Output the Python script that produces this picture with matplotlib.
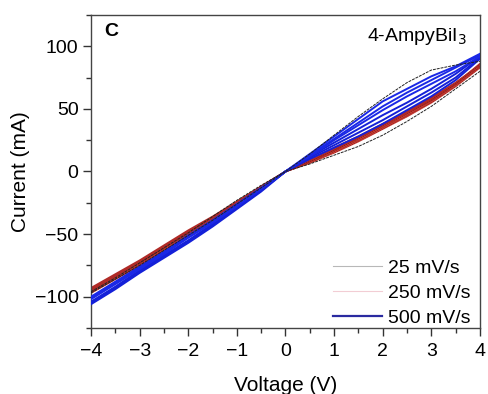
import matplotlib
matplotlib.use("Agg")
import matplotlib.pyplot as plt
from matplotlib.lines import Line2D
from matplotlib.ticker import MultipleLocator

plt.rcParams['font.family'] = ['Liberation Sans', 'DejaVu Sans']

# Voltage grid (V), forward sweep -4 -> 4
voltage = [-4, -3.5, -3, -2.5, -2, -1.5, -1, -0.5, 0, 0.5, 1, 1.5, 2, 2.5, 3, 3.5, 4]

# 25 mV/s (one loop): lower and upper branches on the same grid
black_fwd = [-97, -86, -75, -63, -51, -39, -26, -13, 0, 6, 13, 20, 29, 40, 52, 66, 80]
black_bwd = [-96, -85, -73, -61, -49, -36, -23, -11, 0, 14, 29, 44, 58, 71, 81, 85, 88]

# 250 mV/s (several loops)
red_fwd = [
    [-95, -84, -73, -61, -49, -38, -26, -13, 0, 7, 15, 24, 34, 44, 55, 68, 83],
    [-96, -85, -74, -62, -50, -39, -27, -14, 0, 7, 16, 25, 35, 45, 56, 69, 84],
    [-97, -86, -75, -63, -51, -40, -28, -14, 0, 8, 17, 26, 36, 46, 57, 70, 85],
]
red_bwd = [
    [-93, -82, -71, -59, -47, -36, -24, -12, 0, 9, 19, 28, 38, 48, 59, 71, 85],
    [-94, -83, -72, -60, -48, -37, -25, -12, 0, 9, 18, 27, 37, 47, 58, 70, 84],
    [-95, -84, -73, -61, -49, -37, -25, -13, 0, 8, 17, 27, 37, 47, 57, 70, 86],
]

# 500 mV/s (several loops)
blue_fwd = [
    [-106, -94, -81, -69, -57, -44, -30, -16, 0, 10, 19, 28, 38, 49, 60, 73, 90],
    [-105, -93, -80, -68, -56, -43, -29, -15, 0, 11, 21, 31, 41, 52, 63, 75, 91],
    [-104, -92, -79, -67, -55, -42, -29, -15, 0, 12, 23, 34, 45, 55, 66, 78, 92],
]
blue_bwd = [
    [-100, -88, -76, -64, -51, -39, -26, -13, 0, 14, 28, 42, 56, 66, 76, 84, 94],
    [-101, -89, -77, -65, -52, -40, -27, -14, 0, 13, 26, 39, 52, 63, 73, 83, 93],
    [-102, -90, -78, -66, -53, -41, -28, -14, 0, 12, 25, 37, 49, 60, 70, 80, 92],
]

legend_labels = ["25 mV/s", "250 mV/s", "500 mV/s"]
x_ticks = [-4, -3, -2, -1, 0, 1, 2, 3, 4]
y_ticks = [-100, -50, 0, 50, 100]

fig = plt.figure(figsize=(4.88, 3.94), dpi=100)
ax = fig.add_axes([0.1865, 0.1675, 0.797, 0.7945])

for f, b in zip(red_fwd, red_bwd):
    ax.plot(voltage, f, color='#c83a32', lw=1.3, zorder=2)
    ax.plot(voltage, b, color='#b02a26', lw=1.3, zorder=2)
    ax.plot(voltage, f, color='#5a1410', lw=0.5, ls=(0, (1, 2)), zorder=2)

for f, b in zip(blue_fwd, blue_bwd):
    ax.plot(voltage, f, color='#1420d8', lw=1.4, zorder=3)
    ax.plot(voltage, b, color='#1a28e6', lw=1.4, zorder=3)

ax.plot(voltage, black_fwd, color='#222222', lw=0.7, ls=(0, (3, 1)), zorder=4)
ax.plot(voltage, black_bwd, color='#222222', lw=0.7, ls=(0, (3, 1)), zorder=4)

ax.set_xlim(-4, 4)
ax.set_ylim(-125, 125)
ax.set_xticks(x_ticks)
ax.set_yticks(y_ticks)
ax.set_xticklabels([str(t).replace('-', '\u2212') for t in x_ticks])
ax.set_yticklabels([str(t).replace('-', '\u2212') for t in y_ticks])
ax.xaxis.set_minor_locator(MultipleLocator(0.5))
ax.yaxis.set_minor_locator(MultipleLocator(25))
ax.tick_params(which='major', direction='out', length=6, width=1, labelsize=14, color='#333333')
ax.tick_params(which='minor', direction='out', length=3.5, width=1, color='#333333')
ax.tick_params(axis='x', which='major', pad=5)
ax.tick_params(axis='y', which='major', pad=3)
for s in ax.spines.values():
    s.set_color('#444444')
    s.set_linewidth(1.0)

ax.set_xlabel('Voltage (V)', fontsize=15, labelpad=11)
ax.set_ylabel('Current (mA)', fontsize=15, labelpad=3)

ax.text(0.035, 0.975, 'C', transform=ax.transAxes, fontsize=14, fontweight='bold',
        va='top', ha='left')
ax.text(0.965, 0.965, '4-AmpyBiI$_3$', transform=ax.transAxes, fontsize=14,
        va='top', ha='right')

handles = [
    Line2D([], [], color='#b8b8b8', lw=0.8),
    Line2D([], [], color='#f2cdd4', lw=0.8),
    Line2D([], [], color='#2a2aa0', lw=1.6),
]
leg = ax.legend(handles, legend_labels, loc='lower right', bbox_to_anchor=(1.0, -0.028),
                frameon=False, fontsize=14, handlelength=2.5, handletextpad=0.3,
                labelspacing=0.38, borderaxespad=0.1)

fig.savefig('out.png', dpi=100)
